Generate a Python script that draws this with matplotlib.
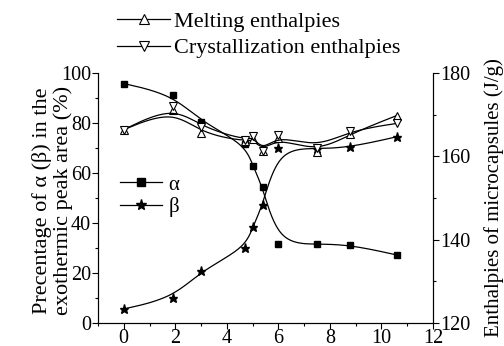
import numpy as np
import matplotlib
matplotlib.use("Agg")
import matplotlib.pyplot as plt
from matplotlib.lines import Line2D
from matplotlib.ticker import MultipleLocator

plt.rcParams['font.family'] = ['Liberation Serif', 'DejaVu Serif']

#------------- DATA -------------#
x_pts = [0, 1.9, 3.0, 4.7, 5.0, 5.4, 6.0, 7.5, 8.8, 10.6]
alpha = [95.8, 91.3, 80.5, 71.6, 63.0, 54.3, 31.7, 31.6, 31.3, 27.2]
beta = [5.6, 10.0, 20.9, 29.9, 38.3, 47.2, 69.9, 69.6, 70.3, 74.5]
melting = [166.4, 171.2, 165.5, 163.6, 164.2, 161.3, 164.5, 161.0, 165.4, 169.8]
crystal = [166.4, 172.1, 167.1, 163.9, 164.8, 161.4, 165.1, 162.1, 166.2, 167.9]


#------------- FUNCTIONS -------------#
def bspline(xs, ys, n=40):
    """uniform cubic B-spline, data points used as control points (like Origin)"""
    P = np.column_stack([xs, ys]).astype(float)
    P = np.vstack([P[0], P[0], P, P[-1], P[-1]])
    t = np.linspace(0, 1, n)
    b0 = (1 - t) ** 3 / 6
    b1 = (3 * t ** 3 - 6 * t ** 2 + 4) / 6
    b2 = (-3 * t ** 3 + 3 * t ** 2 + 3 * t + 1) / 6
    b3 = t ** 3 / 6
    out = []
    for i in range(len(P) - 3):
        seg = (np.outer(b0, P[i]) + np.outer(b1, P[i + 1])
               + np.outer(b2, P[i + 2]) + np.outer(b3, P[i + 3]))
        out.append(seg)
    out = np.vstack(out)
    return out[:, 0], out[:, 1]


#------------- PLOT -------------#
fig = plt.figure(figsize=(5.04, 3.46), dpi=100)
ax = fig.add_axes([0.1944, 0.0665, 0.6646, 0.7225])
ax2 = ax.twinx()

lw = 0.9
for ys, mk, ms in [(alpha, 's', 4.3), (beta, '*', 6.5)]:
    cx, cy = bspline(x_pts, ys)
    ax.plot(cx, cy, color='black', lw=lw)
    ax.plot(x_pts, ys, ls='none', marker=mk, ms=ms, color='black')

for ys, mk in [(melting, '^'), (crystal, 'v')]:
    cx, cy = bspline(x_pts, ys)
    ax2.plot(cx, cy, color='black', lw=lw)
    ax2.plot(x_pts, ys, ls='none', marker=mk, ms=5.5, mfc='white',
             mec='black', mew=0.8)

ax.set_xlim(-1, 12)
ax.set_ylim(0, 100)
ax2.set_ylim(120, 180)

ax.xaxis.set_major_locator(MultipleLocator(2))
ax.xaxis.set_minor_locator(MultipleLocator(1))
ax.yaxis.set_major_locator(MultipleLocator(20))
ax.yaxis.set_minor_locator(MultipleLocator(10))
ax2.yaxis.set_major_locator(MultipleLocator(20))
ax2.yaxis.set_minor_locator(MultipleLocator(10))

for a in (ax, ax2):
    a.spines['top'].set_visible(False)
    for s in a.spines.values():
        s.set_linewidth(0.8)
    a.tick_params(which='major', length=4, width=0.8, labelsize=14.5, pad=1)
    a.tick_params(which='minor', length=2, width=0.8)
ax.tick_params(axis='x', pad=0)

ax.set_ylabel('Precentage of α (β) in the\nexothermic peak area (%)',
              fontsize=16, linespacing=1.05)
ax.yaxis.set_label_coords(-0.076, 0.49)
ax2.set_ylabel('Enthalpies of microcapsules (J/g)', fontsize=15, labelpad=10)

# legend for alpha / beta
h_ab = [Line2D([], [], color='black', lw=lw, marker='s', ms=6),
        Line2D([], [], color='black', lw=lw, marker='*', ms=8)]
ax.legend(h_ab, ['α', 'β'], loc='upper left', bbox_to_anchor=(0.036, 0.633),
          frameon=False, fontsize=15, handlelength=2.0, handletextpad=0.3,
          labelspacing=0.1, borderpad=0, numpoints=1)

# legend for enthalpies above the axes
h_en = [Line2D([], [], color='black', lw=lw, marker='^', ms=6.5, mfc='white', mew=0.8),
        Line2D([], [], color='black', lw=lw, marker='v', ms=6.5, mfc='white', mew=0.8)]
fig.legend(h_en, ['Melting enthalpies', 'Crystallization enthalpies'],
           loc='upper left', bbox_to_anchor=(0.21, 0.999), frameon=False,
           fontsize=16, handlelength=2.4, handletextpad=0.15,
           labelspacing=0.26, borderpad=0, numpoints=1)

fig.savefig('out.png', dpi=100)
